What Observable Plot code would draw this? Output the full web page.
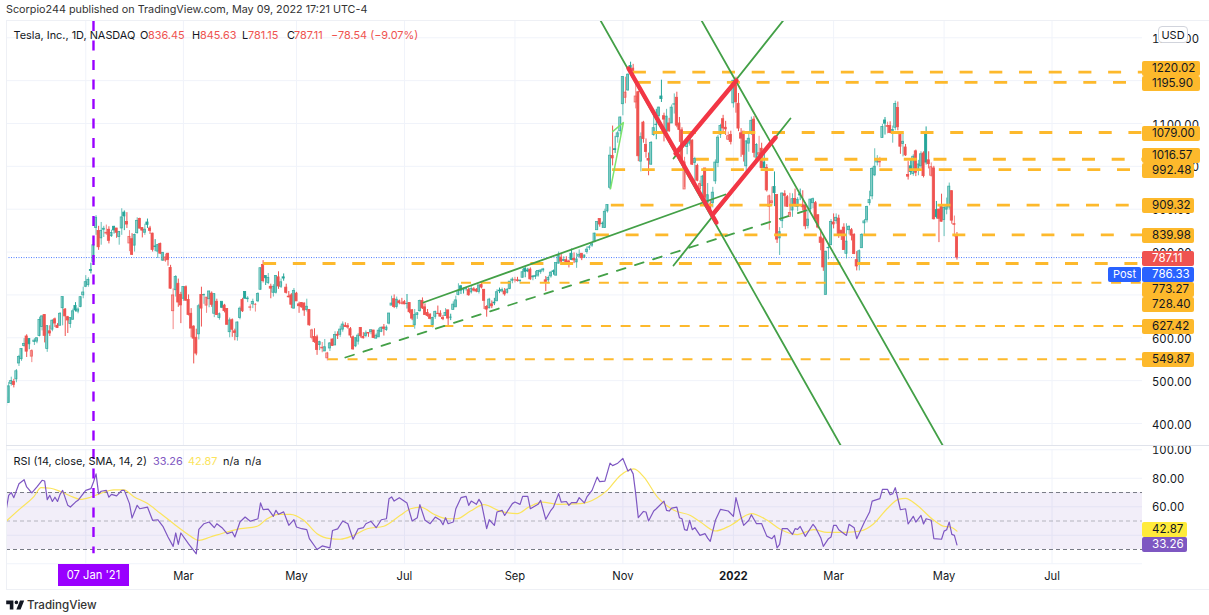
<!DOCTYPE html>
<html><head><meta charset="utf-8">
<script src="https://cdn.jsdelivr.net/npm/d3@7"></script>
<script src="https://cdn.jsdelivr.net/npm/@observablehq/plot@0.6"></script>
<style>
html,body{margin:0;padding:0;background:#fff;width:1209px;height:615px;overflow:hidden;font-family:Inter,"Noto Sans",sans-serif;}
#page{position:relative;width:1209px;height:615px;}
#page>svg,.abs{position:absolute;}
.lab{position:absolute;white-space:pre;transform:translateY(-50%);line-height:1;}
.tag{position:absolute;left:1142px;height:15px;line-height:15px;padding-left:10px;box-sizing:border-box;border-radius:2px;font-size:11.6px;color:#131722;}
</style></head><body><div id="page"></div>
<script>
const opens=[460,448,492,497,503,540,550,581,603,
597,556,590,591,604,625,653,574,615,619,643,628,628,669,666,648,632,642,674,661,672,699,
719,723,758,777,856,849,832,852,843,852,837,859,855,835,855,892,870,820,830,
815,844,877,856,845,869,855,843,813,801,819,780,780,796,763,662,711,726,700,
691,718,688,656,626,600,608,700,699,675,690,703,656,684,646,684,675,667,613,641,615,602,646,
688,707,690,670,678,677,685,712,770,744,728,719,705,705,741,719,741,717,696,699,668,
703,678,681,680,665,665,600,602,601,583,575,568,552,575,596,582,607,607,619,628,
627,620,601,580,591,623,602,604,611,613,617,598,601,614,624,618,633,675,690,672,685,680,
683,679,681,664,629,653,662,686,671,658,654,630,649,656,656,646,651,664,647,665,671,
700,720,711,716,711,706,713,712,707,723,712,672,669,678,682,685,710,708,708,705,714,733,
734,734,732,740,761,757,759,741,742,745,753,757,734,734,743,755,745,773,787,779,781,
778,796,784,776,789,796,787,800,810,815,823,851,877,866,856,895,950,1024,1040,1068,1082,
1145,1160,1177,1234,1228,1149,1173,1011,1102,1050,1017,1004,1073,1097,1117,1163,1117,1080,1100,1100,1144,
1160,1100,1084,946,1045,1053,1060,1008,1001,946,954,995,915,911,914,965,1008,1074,1110,1090,1062,1073,
1147,1189,1146,1077,1081,1000,1053,1078,1109,1020,1027,1041,1009,996,905,914,952,933,832,872,
935,928,882,897,924,905,935,909,909,861,900,914,914,886,834,830,700,809,816,
869,872,878,850,857,796,851,851,840,781,775,809,867,874,914,930,979,1009,1009,1066,1107,1092,1094,
1081,1090,1136,1073,1052,1044,980,1000,982,1035,989,1000,1030,1075,1014,978,995,898,899,909,
875,899,904,942,863,836.45];
const highs=[463,496,508,503,526,559,574,598,607,
598,572,598,599,648,651,654,628,628,642,646,633,659,695,668,650,646,667,682,670,696,718,
745,740,774,817,885,860,869,860,863,859,851,860,855,848,901,896,892,850,843,
842,880,879,856,865,877,860,844,829,818,821,799,795,797,769,714,745,737,706,
719,721,700,668,628,620,678,718,702,694,709,707,703,690,658,681,678,668,646,644,620,637,672,
692,708,696,677,690,680,705,763,780,743,750,725,724,745,754,737,749,725,708,703,715,
706,683,682,681,690,666,620,621,606,592,589,596,566,589,597,614,614,627,637,635,
633,624,604,600,610,624,612,616,612,618,617,609,622,625,631,628,657,697,700,695,688,692,
687,701,681,666,666,659,688,693,679,666,656,648,662,674,663,652,668,663,655,684,697,
726,722,716,716,716,722,717,715,722,730,712,675,692,686,692,712,716,716,715,715,731,740,
741,741,734,760,764,762,763,745,755,756,758,762,743,744,754,758,774,800,795,789,789,
781,807,798,797,805,796,793,812,815,821,844,870,877,870,900,910,1045,1094,1070,1082,1115,
1209,1208,1216,1243,1238,1197,1175,1078,1105,1064,1031,1058,1119,1133,1138,1201,1124,1133,1112,1143,1169,
1173,1114,1090,1021,1057,1073,1062,1021,1005,966,979,995,960,922,951,1015,1072,1098,1119,1105,1080,1082,
1201,1208,1170,1088,1080,1060,1075,1115,1116,1053,1070,1054,1041,1004,933,952,987,933,857,937,
943,932,937,936,947,927,947,943,915,899,923,926,918,886,853,835,802,819,876,
889,889,886,849,866,866,861,855,843,801,805,843,876,907,942,997,1041,1025,1021,1098,1114,1103,1104,
1094,1152,1150,1079,1076,1051,1011,1014,1027,1038,1014,1034,1034,1092,1034,1008,1000,918,900,935,
909,926,961,943,884,845.63];
const lows=[440,447,487,483,495,533,545,578,554,
572,542,582,586,602,616,588,566,603,614,624,622,628,628,603,610,622,641,660,656,670,691,
717,718,749,775,839,804,816,834,839,819,834,842,832,816,839,850,855,801,792,
800,842,854,833,839,855,841,800,801,785,794,778,776,767,713,619,695,671,633,
685,685,651,600,539,558,595,625,678,657,670,671,647,652,641,668,658,630,600,601,593,592,642,
659,691,682,662,668,660,682,711,728,722,724,691,695,702,713,715,732,702,693,668,667,
686,657,669,650,660,627,595,587,559,570,565,568,546,568,580,582,596,601,613,624,
620,599,571,577,583,599,597,600,601,607,598,597,601,612,604,615,630,675,668,667,677,677,
677,667,656,640,620,643,660,666,652,648,642,623,643,654,648,640,650,628,640,665,671,
698,701,702,709,697,702,707,705,702,714,666,648,667,668,675,685,703,705,697,702,712,726,
728,730,725,739,740,752,734,733,736,741,748,752,708,726,739,746,744,772,774,777,775,
763,780,773,762,789,780,785,795,804,811,822,851,858,855,855,891,945,1001,1030,1054,1073,
1118,1146,1175,1217,1206,1134,1011,987,1054,1019,978,1002,1070,1062,1107,1149,1057,1079,1079,1100,1122,
1090,1056,1001,950,1027,1047,1002,960,964,930,927,921,908,887,903,958,997,1065,1079,1072,1060,1050,
1136,1124,1081,1021,1010,980,1033,1072,1020,1010,1016,995,994,940,851,909,906,820,792,855,
905,904,885,881,904,894,920,896,852,854,893,901,874,854,803,755,700,782,815,
854,865,832,827,804,784,840,826,794,756,756,809,837,868,908,922,976,1001,997,1066,1073,1076,1076,
1054,1083,1083,1028,1022,1023,968,979,977,976,978,995,973,1003,994,975,875,877,822,870,
836,887,898,865,835,781.15];
const closes=[441.61,486.64,499.27,489.61,521.85,555.38,574,585.76,567.6,
584.76,568.82,593.38,599.04,641.76,649.88,604.48,627.07,609.99,639.83,633.25,622.77,655.9,695,649.86,640.34,645.98,661.77,663.69,665.99,694.78,705.67,
729.77,735.11,755.98,816.04,880.02,811.19,849.44,854.41,845,826.16,844.55,850.45,844.99,846.64,880.8,883.09,864.16,835.43,793.53,
839.81,872.79,854.69,849.99,852.23,863.42,849.46,804.82,811.66,816.12,796.22,798.15,787.38,781.3,714.5,698.84,742.02,682.22,675.5,
718.43,686.44,653.2,621.44,597.95,563,673.58,668.06,699.6,693.73,707.94,676.88,701.81,653.16,654.87,670,662.16,630.27,640.39,618.71,611.29,635.62,667.93,
661.75,691.05,691.62,670.97,683.8,677.02,701.98,762.32,732.23,738.85,739.78,714.63,718.99,744.12,719.69,729.4,738.2,704.74,694.4,677,709.44,
684.9,673.6,670.94,663.54,672.37,629.04,617.2,589.89,571.69,589.74,576.83,577.87,563.46,586.78,580.88,606.44,604.69,619.13,630.85,625.22,
623.9,605.12,572.84,599.05,605.13,603.59,598.78,610.12,609.89,617.69,599.36,604.87,616.6,623.31,620.83,623.71,656.57,679.82,671.87,688.72,680.76,679.7,
677.92,678.9,659.58,644.65,652.81,656.95,685.7,668.54,653.38,650.6,644.22,646.22,660.5,655.29,649.26,643.38,657.62,644.78,646.98,677.35,687.2,
709.67,709.74,710.92,714.63,699.1,713.76,709.99,707.82,722.25,717.17,686.17,665.71,688.99,673.47,680.26,706.3,708.49,711.2,701.16,711.92,730.91,735.72,
734.09,732.39,733.57,752.92,753.87,754.86,736.27,743,744.49,755.83,756.99,759.49,730.17,739.38,751.94,753.64,774.39,791.36,777.56,781.31,775.48,
775.22,781.53,780.59,782.75,793.61,785.49,791.94,805.72,811.08,818.32,843.03,870.11,864.27,865.8,894,909.68,1024.86,1018.43,1037.86,1077.04,1114,
1208.59,1172,1213.86,1229.91,1222.09,1162.94,1023.5,1067.95,1063.51,1033.42,1013.39,1054.73,1089.01,1096.38,1137.06,1156.87,1109.03,1116,1081.92,1136.99,1144.76,
1095,1084.6,1014.97,1009.01,1051.75,1068.96,1003.8,1017.03,966.41,958.51,975.99,926.92,932.57,899.94,938.53,1008.87,1067,1093.94,1088.47,1086.19,1070.34,1056.78,
1199.78,1149.59,1088.12,1064.7,1026.96,1058.12,1064.4,1106.22,1031.56,1049.61,1030.51,995.65,996.27,943.9,930,918.4,937.41,829.1,846.35,936.72,
931.25,905.66,891.14,923.32,907.34,922,932,904.55,860,875.76,922.43,923.39,876.35,856.98,821.53,764.04,800.77,809.87,870.43,
864.37,879.89,839.29,838.29,804.58,824.4,858.97,838.3,795.35,766.37,801.89,840.23,871.6,905.39,921.16,993.98,999.11,1013.92,1010.64,1091.84,1099.57,1093.99,1077.6,
1084.59,1145.45,1091.26,1045.76,1057.26,1025.49,975.93,986.95,1022.37,985,1004.29,1028.15,977.2,1008.78,1005.05,998.02,876.42,881.51,877.51,870.76,
902.94,909.25,952.62,873.28,865.65,787.11];

const rsiBars=[0,1,2,3,5,7,8,10,12,14,15,16,17,18,19,20,21,22,24,25,27,28,31,33,34,35,36,37,39,40,41,43,45,46,48,49,51,52,55,57,59,61,63,65,66,67,68,71,74,75,77,79,81,82,84,86,88,89,91,93,95,98,99,100,102,104,105,106,108,110,112,113,115,117,118,121,123,126,127,129,131,133,135,137,139,140,142,144,146,148,149,150,151,153,156,158,160,161,163,165,167,169,170,171,172,174,175,177,179,180,181,183,184,185,187,188,190,191,193,194,197,198,200,201,203,204,207,208,210,212,213,215,216,218,219,220,222,223,225,226,228,230,231,233,235,236,238,240,242,243,244,245,246,248,249,250,252,253,256,257,258,259,261,262,263,264,265,266,267,268,270,272,273,274,276,278,281,283,284,286,287,289,290,292,294,296,298,299,300,301,302,304,306,307,308,309,311,314,315,317,318,320,321,322,323,324,327,328,330,331,334,336,337,340,341,343,344,345,346,348,350,351,353,354,356,357,358,360,361,364,365,366,367,368,369,370];
const rsiValues=[57.5,68,70,66.4,76.2,79,73.9,69.7,73.9,78.6,78.1,65,68,63.7,66.7,63.7,68.7,71.5,61,59.8,63.3,64.5,71.5,72.7,77.4,83.1,69,70.9,71.5,66.7,68.7,67.6,71.5,71.5,62.2,52.1,61,58.6,59.8,50.5,50.9,46.3,38.8,32.2,41.6,33.6,41.6,34,27,44.1,48.1,49.3,45.3,48.1,45.3,41.1,42.3,38.8,49.3,52.8,49.8,51.6,62.7,58,58.3,53.3,57.5,54.7,56.4,47,51,45.8,44.6,43.9,37.6,30,32.5,31.1,43.3,44.5,50,48.1,37.2,44.5,45.3,48.1,49.8,45.3,50.9,51.6,65.7,66.9,64,66.4,62.6,50,52.3,61.5,50.5,48.1,52.8,50.5,47.4,52.3,48.1,49.3,58.6,66.4,67.3,61,64,61.7,65.2,62.2,44.6,50.9,46.9,56.3,57.5,53.9,62.2,63.3,61.7,67.3,67.3,58.6,61.7,64.5,51.2,57.5,59.8,69.2,63.3,63.7,61,62.9,62.9,66.4,62.7,66.9,71.5,80.8,77.6,78,90.6,88.9,90.6,93.9,85,86.6,83.1,69,52.3,56.7,56.3,50,57,58.6,64,57.5,57,59.1,59.8,52.3,51.6,43.9,43.4,50.5,43.9,45.3,39.9,41.1,38,35.7,50.5,58.2,57,53.3,66.4,52.8,46.9,50.5,54.4,48.1,48.1,39.4,37.6,39.9,31.2,33.6,44.6,44.6,40.6,44.6,44.1,46.2,39.2,47.7,45.3,38.3,32.2,37.6,38.8,47,47,43.9,39.9,47.7,45.3,37.6,49.3,56.3,64,65.7,72.2,72.2,68.4,69.2,73.4,57.9,58.6,47.9,53.3,49.3,53.9,47.9,51.6,50.5,37.6,37.2,42.9,43.9,49.3,40.6,39.9,33.26];
const maBars=[0,5.6,10.8,13.6,17.3,21.1,25,28.9,32.8,36.7,41.9,45.8,49.7,54.9,60,65.2,70.4,75,79.5,86,91.2,97.7,101.6,106,110.6,115.8,121,126.2,130,135.3,140.5,147,153.4,157.4,161.3,166.5,171.7,175.5,180.7,185.9,192.4,198.9,203.4,208.6,214.5,223.5,230,233.9,239,244.3,248.2,253.4,259.9,266.3,270.2,276,281.9,290,296.2,301.4,307.8,314.3,319.5,326,332.5,337.6,342.8,347.4,350,354.5,361,364.9,367.5,370];
const maValues=[49.8,58.9,67.1,73.4,73,70.7,67.6,65.2,66.7,69.4,71.8,71.8,67.1,62.4,55.4,48.1,41.1,36.4,38.8,42.3,44.6,46.3,51.6,54.7,54.7,50.5,41.1,37.6,37.2,40,44.6,46.3,54,58.6,59.8,54.7,51.6,51.6,57,61.5,56.8,55.2,59.8,63.3,61.7,62.2,66.4,71.5,82,86.6,80.8,66.9,57.5,53.9,49.3,43,46.9,55.2,50.5,44,40.5,43.9,42,42,43,48.1,58.6,65.4,65.9,61,50.5,46.3,45.8,42.87];

const priceTicks=[400,500,600,700,800,900,1000,1100,1200,1300];
const rsiTicks=[20,40,60,80,100];
const gridBars=[31,69,113,155,198,240,283,322,365,407];
const tickBars=[69,113,155,198,240,283,322,365,407];
const tickLabels=["Mar","May","Jul","Sep","Nov","2022","Mar","May","Jul"];

const levelsThick=[[1220.02,244.1],[1195.90,246],[1079.00,252],[1016.57,268.6],[992.48,236],[909.32,235.5],[839.98,229.7],[773.27,100.2]];
const levelsThin=[[728.40,177.2],[627.42,155],[549.87,125.4]];
const greenLines=[[[231.3,1340.3],[325,346.3]],[[270.6,1340.3],[364.7,346.3]],[[259.7,768.6],[305.2,1111.6]],[[259.7,1018.3],[303.3,1347]],[[162.4,682.3],[279.9,934.3]]];
const greenDashed=[[132,554],[314.9,904]];
const limeLine=[[236,1081],[240.2,1102],[235.2,948]];
const redLines=[[[242.2,1228.3],[276.4,869]],[[275.3,890],[299.4,1067.3]],[[260.5,1030],[284.2,1200.3]]];
const markerBar=34, lastClose=787.11, rsiHigh=70, rsiMid=50, rsiLow=30;

const FONT='Inter,"Noto Sans",sans-serif', TEAL="#26a69a", RED="#ef5350", GRID="#f0f3fa", AMBER="#fdb92c", GREEN="#43a047";
const bars=closes.map((c,i)=>({i,o:opens[i],h:highs[i],l:lows[i],c,up:i===0||c>=closes[i-1],hollow:c>opens[i]}));
const xDomain=[0.15,442.2];
const page=document.getElementById("page");

function candleMarks(){
  const groups=[[true,true],[true,false],[false,true],[false,false]];
  return groups.flatMap(([up,hollow])=>{
    const col=up?TEAL:RED, d=bars.filter(b=>b.up===up&&b.hollow===hollow);
    return [
      Plot.ruleX(d,{x:"i",y1:"l",y2:"h",stroke:col,strokeWidth:1,strokeOpacity:hollow?.7:1,clip:true}),
      Plot.rect(d,{x1:b=>b.i-.42,x2:b=>b.i+.42,y1:"o",y2:"c",fill:col,fillOpacity:hollow?.4:1,stroke:col,strokeWidth:.8,strokeOpacity:hollow?.85:1,clip:true})
    ];
  });
}
const segment=(p,o)=>Plot.line(p,{x:d=>d[0],y:d=>d[1],clip:true,...o});
const price=Plot.plot({width:1209,height:425,marginTop:0,marginBottom:0,marginLeft:6,marginRight:67,
  style:{background:"transparent",fontFamily:FONT,fontSize:"11.3px",color:"#131722",overflow:"visible"},
  x:{domain:xDomain,axis:null},y:{domain:[346.3,1337.96],axis:null},
  marks:[
    Plot.gridX(gridBars,{x:d=>d,stroke:GRID,strokeOpacity:1}),
    Plot.gridY(priceTicks,{y:d=>d,stroke:GRID,strokeOpacity:1}),
    Plot.axisY({anchor:"right",ticks:priceTicks,tickSize:0,tickPadding:9.5,dy:1.5,tickFormat:d=>d.toFixed(2),label:null,fill:"#131722"}),
    Plot.ruleY([lastClose],{stroke:"#4d7dff",strokeWidth:1,strokeDasharray:"1,1.5"}),
    ...candleMarks(),
    ...levelsThick.map(([p,s])=>Plot.ruleY([p],{x1:s,x2:xDomain[1],stroke:AMBER,strokeWidth:2.8,strokeDasharray:"13,16.7",clip:true})),
    ...levelsThin.map(([p,s])=>Plot.ruleY([p],{x1:s,x2:xDomain[1],stroke:AMBER,strokeWidth:1.9,strokeDasharray:"10,9.7",clip:true})),
    ...greenLines.map(l=>segment(l,{stroke:GREEN,strokeWidth:1.8})),
    segment(greenDashed,{stroke:GREEN,strokeWidth:1.8,strokeDasharray:"9,10"}),
    segment(limeLine,{stroke:"#7be36c",strokeWidth:1.5}),
    ...redLines.map(l=>segment(l,{stroke:"#f23645",strokeWidth:4.4})),
    Plot.ruleX([markerBar],{stroke:"#9900ff",strokeWidth:2.4,strokeDasharray:"10,9.5"})
  ]});
price.style.left="0";price.style.top="21px";page.append(price);

const rsiPts=rsiBars.map((x,k)=>({x,y:rsiValues[k]})), maPts=maBars.map((x,k)=>({x,y:maValues[k]}));
const rsi=Plot.plot({width:1209,height:143,marginTop:3,marginBottom:25,marginLeft:6,marginRight:67,
  style:{background:"transparent",fontFamily:FONT,fontSize:"11.3px",color:"#131722",overflow:"visible"},
  x:{domain:xDomain,axis:null},y:{domain:[19.47,100.2],axis:null},
  marks:[
    Plot.gridX(gridBars,{x:d=>d,stroke:GRID,strokeOpacity:1}),
    Plot.gridY(rsiTicks,{y:d=>d,stroke:GRID,strokeOpacity:1}),
    Plot.rectY([0],{x1:xDomain[0],x2:xDomain[1],y1:rsiLow,y2:rsiHigh,fill:"#7e57c2",fillOpacity:.1}),
    Plot.ruleY([rsiHigh,rsiLow],{stroke:"#787b86",strokeWidth:1,strokeDasharray:"4,3"}),
    Plot.ruleY([rsiMid],{stroke:"#787b86",strokeOpacity:.5,strokeWidth:1,strokeDasharray:"4,3"}),
    Plot.axisY({anchor:"right",ticks:rsiTicks.slice(1),tickSize:0,tickPadding:9.5,dy:1,tickFormat:d=>d.toFixed(2),label:null,fill:"#131722"}),
    Plot.axisX({anchor:"bottom",ticks:tickBars,tickSize:0,tickPadding:8,fontSize:11.2,tickFormat:d=>tickLabels[tickBars.indexOf(d)],label:null,fill:"#131722"}),
    Plot.line(maPts,{x:"x",y:"y",stroke:"#fbe45c",strokeWidth:1.2,curve:"monotone-x",clip:true}),
    Plot.line(rsiPts,{x:"x",y:"y",stroke:"#7e57c2",strokeWidth:1.2,clip:true}),
    Plot.ruleX([markerBar],{y1:100.2,y2:27,stroke:"#9900ff",strokeWidth:2.4,strokeDasharray:"10,9.5"})
  ]});
rsi.style.left="0";rsi.style.top="446px";page.append(rsi);
d3.select(rsi).selectAll("text").filter(function(){return this.textContent==="2022"}).attr("font-weight",700);

function box(l,t,w,h,css){const d=document.createElement("div");d.className="abs";d.style.cssText+=`left:${l}px;top:${t}px;width:${w}px;height:${h}px;${css}`;page.append(d);return d;}
function lab(txt,l,cy,css=""){const d=document.createElement("div");d.className="lab";d.textContent=txt;d.style.cssText+=`left:${l}px;top:${cy}px;font-size:10.9px;color:#131722;${css}`;page.append(d);return d;}
function tag(txt,cy,w,bg,fg="#131722"){const d=document.createElement("div");d.className="tag";d.textContent=txt;d.style.cssText+=`top:${cy-7.5}px;width:${w}px;background:${bg};color:${fg};`;page.append(d);}

box(6,20,1203,1,"background:#eef0f5");box(6,20,1,570,"background:#eef0f5");box(6,589,1203,1,"background:#eef0f5");box(6,445,1203,1,"background:#e0e3eb");

lab("Scorpio244 published on TradingView.com, May 09, 2022 17:21 UTC-4",6,10,"font-size:10.8px;color:#333");
const R="color:#ef5350";
lab("Tesla, Inc., 1D, NASDAQ",13.5,34.5);
lab("O",140,34.5);lab("836.45",148,34.5,R);lab("H",192,34.5);lab("845.63",200,34.5,R);lab("L",242,34.5);lab("781.15",248,34.5,R);lab("C",287,34.5);lab("787.11",294,34.5,R);lab("−78.54 (−9.07%)",331,34.5,R);
lab("RSI (14, close, SMA, 14, 2)",13.5,460.5);lab("33.26",153,460.5,"color:#7e57c2");lab("42.87",188,460.5,"color:#fbe45c");lab("n/a",223,460.5);lab("n/a",245,460.5);

const amber="#fdb92c";
const tagCenters={"1220.02":68,"1195.90":83,"1079.00":133,"1016.57":155.5,"992.48":170,"909.32":205.8,"839.98":235.7,"773.27":289,"728.40":304,"627.42":326,"549.87":359.6};
[...levelsThick,...levelsThin].forEach(([p])=>{const t=p.toFixed(2);tag(t,tagCenters[t],p>1000?58:52,amber);});
tag(lastClose.toFixed(2),258.5,52,"#ef5350","#fff");
tag("786.33",274.2,52,"#2962ff","#fff");
const post=document.createElement("div");post.textContent="Post";post.style.cssText="position:absolute;left:1108px;top:267px;width:33px;height:15px;line-height:15px;text-align:center;background:#2962ff;color:#fff;font-size:11px;border-radius:2px";page.append(post);
tag("42.87",529.3,45,"#ffeb3b");
tag("33.26",544.6,45,"#7e57c2","#fff");
const usd=document.createElement("div");usd.textContent="USD";usd.style.cssText="position:absolute;left:1158px;top:26px;width:30px;height:17px;line-height:16px;text-align:center;background:#fff;border:1px solid #d1d4dc;box-sizing:border-box;border-radius:4px;font-size:11px;color:#131722";page.append(usd);

const pl=document.createElement("div");pl.textContent="07 Jan '21";pl.style.cssText="position:absolute;left:58px;top:564px;width:71px;height:22px;line-height:22px;text-align:center;background:#9900ff;color:#fff;font-size:11.2px";page.append(pl);

const logo=document.createElementNS("http://www.w3.org/2000/svg","svg");logo.setAttribute("viewBox","0 0 36 28");logo.setAttribute("width","21.6");logo.setAttribute("height","16.8");logo.style.cssText="position:absolute;left:4.8px;top:597.4px";
logo.innerHTML='<path fill="#131722" d="M14 6H2v6h6v9h6V6Zm12 15h-7l6-15h7l-6 15Zm-7-9a3 3 0 1 0 0-6 3 3 0 0 0 0 6Z"/>';page.append(logo);
lab("TradingView",27,605.7,"font-size:11.6px;font-weight:500;color:#333");
</script></body></html>
